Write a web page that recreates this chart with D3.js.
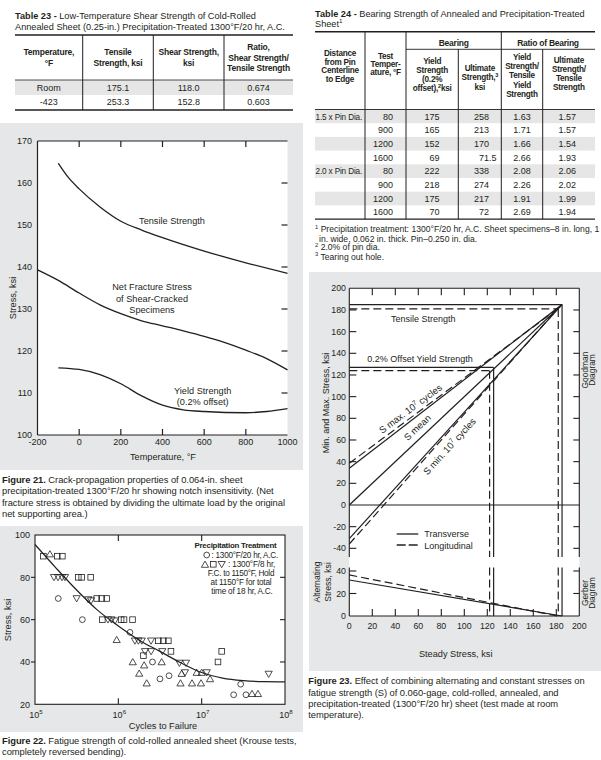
<!DOCTYPE html>
<html><head><meta charset="utf-8">
<script src="https://cdn.jsdelivr.net/npm/d3@7"></script>
<style>
body{margin:0;background:#fff}
svg{display:block}
text{font-family:"Liberation Sans",Arial,Helvetica,sans-serif;fill:#231f20}
</style>
</head><body>
<svg id="c" width="601" height="760"></svg>
<script>
// ================= DATA =================
// Table 23
const t23Head = [["Temperature,","°F"],["Tensile","Strength, ksi"],["Shear Strength,","ksi"],["Ratio,","Shear Strength/","Tensile Strength"]];
const t23Temp = ["Room","-423"];
const t23Tensile = ["175.1","253.3"];
const t23Shear = ["118.0","152.8"];
const t23Ratio = ["0.674","0.603"];
// Table 24
const t24Dist = ["1.5 x Pin Dia.","","","","2.0 x Pin Dia.","","",""];
const t24Temp = ["80","900","1200","1600","80","900","1200","1600"];
const t24Yield = ["175","165","152","69","222","218","175","70"];
const t24Ult = ["258","213","170","71.5","338","274","217","72"];
const t24RatioYield = ["1.63","1.71","1.66","2.66","2.08","2.26","1.91","2.69"];
const t24RatioUlt = ["1.57","1.57","1.54","1.93","2.06","2.02","1.99","1.94"];
const t24Notes = ["Precipitation treatment: 1300°F/20 hr, A.C. Sheet specimens–8 in. long, 1","in. wide, 0.062 in. thick. Pin–0.250 in. dia.","2.0% of pin dia.","Tearing out hole."];

// Figure 21 (temperature °F, stress ksi)
const f21XTicks = [-200,0,200,400,600,800,1000];
const f21YTicks = [100,110,120,130,140,150,160,170];
const f21Tensile = [[-100,164.7],[-50,161.2],[0,158.6],[100,154.3],[200,150.9],[300,148.8],[400,147],[600,143.8],[800,141],[1000,138.5]];
const f21NetFracture = [[-200,139.3],[-100,136.8],[0,133.8],[100,131],[200,128.9],[300,127.2],[400,126],[500,124.8],[600,123.5],[700,122],[800,120.2],[900,118.2],[1000,115.5]];
const f21Yield = [[-100,116],[0,115.6],[100,114.4],[200,112.2],[300,109.3],[400,107.1],[500,106],[600,105.6],[800,105.3],[900,105.6],[1000,106.3]];

// Figure 22 (cycles, stress ksi)
const f22XTicks = [1e5,1e6,1e7,1e8];
const f22YTicks = [20,40,60,80,100];
const f22Circles = [[1.9e5,70],[3.7e5,60],[1.38e6,54],[2.57e6,40],[3.16e6,32],[4.06e6,33.5],[2.94e7,29.5],[2.42e7,24.5],[3.4e7,24.5]];
const f22Triangles = [[1.51e5,91],[9.55e5,50.5],[1.49e6,40],[2.04e6,38.5],[1.78e6,34.6],[2.19e6,30],[3.31e6,40],[5.75e6,34.5],[5.57e6,30],[7.66e6,30],[9.82e6,30],[8.71e6,35],[1.0e7,35],[1.26e7,32],[4.02e7,25],[4.74e7,25]];
const f22Squares = [[1.26e5,90],[1.85e5,90],[2.13e5,90],[3.31e5,80],[3.63e5,80],[4.66e5,80],[5.5e5,70],[6.31e5,70],[7.24e5,70],[6.43e5,60],[1.08e6,60],[1.17e6,60],[1.48e6,60],[3.02e6,50],[3.47e6,50],[3.98e6,50],[2.0e6,43],[4.28e6,45],[1.57e7,40],[1.74e7,45]];
const f22InvTriangles = [[1.69e5,80],[1.89e5,80],[2.11e5,80],[2.29e5,80],[3.16e5,70],[4.36e5,69.5],[4.7e5,69],[7.5e5,60],[8.28e5,60],[9.12e5,59.5],[1.58e6,50],[1.74e6,50],[1.91e6,50],[2.47e6,50],[2.09e6,45],[2.47e6,45],[3.37e6,45],[5.4e6,39.5],[6.49e6,39.5],[6.31e6,35],[1.15e7,35],[6.37e7,34.3]];
const f22Curve = [[1e5,95.5],[1.78e5,84.5],[3.16e5,74],[5.62e5,64.5],[1e6,57],[1.78e6,50.3],[3.16e6,45],[5.62e6,39.6],[1e7,35],[1.78e7,32.4],[3.16e7,31.2],[5.62e7,30.7],[1e8,30.6]];

// Figure 23 (steady stress ksi, min/max stress ksi)
const f23XTicks = [0,20,40,60,80,100,120,140,160,180,200];
const f23YTicksTop = [-40,-20,0,20,40,60,80,100,120,140,160,180,200];
const f23YTicksBot = [0,20,40];
const sMaxT = [[0,34],[185,185]];
const sMaxL = [[0,38.5],[181,181]];
const sMean = [[0,0],[185,185]];
const sMinT = [[0,-31],[185,185]];
const sMinL = [[0,-36],[181,181]];
const tensileT = [185,185];   // [level, steady stress]
const tensileL = [181,181.7];
const yieldT = [127,125.5];
const yieldL = [124,122];
const gerberT = [[0,32],[185,0]];
const gerberL = [[0,36.5],[181,0]];

// ================= DRAWING =================
const INK="#231f20", PANEL="#e6e7e8", BAND="#e6e6e6";
const svg=d3.select("#c");
svg.append("rect").attr("width",601).attr("height",760).attr("fill","#fff");

function text(g,x,y,s,fs,opt={}){
  const t=g.append("text").attr("x",x).attr("y",y).attr("font-size",fs).text(s);
  if(opt.anchor) t.attr("text-anchor",opt.anchor);
  if(opt.bold) t.attr("font-weight","bold");
  if(opt.ls!==undefined) t.attr("letter-spacing",opt.ls);
  if(opt.rot) t.attr("transform",`rotate(${opt.rot},${x},${y})`);
  return t;
}
function rich(g,x,y,parts,fs,opt={}){
  const t=g.append("text").attr("x",x).attr("y",y).attr("font-size",fs);
  if(opt.anchor) t.attr("text-anchor",opt.anchor);
  if(opt.ls!==undefined) t.attr("letter-spacing",opt.ls);
  if(opt.rot) t.attr("transform",`rotate(${opt.rot},${x},${y})`);
  let up=false;
  parts.forEach(p=>{
    if(typeof p==="string") p={t:p};
    const s=t.append("tspan").text(p.t);
    if(p.b) s.attr("font-weight","bold");
    if(p.sup){ s.attr("font-size",fs*0.68); if(!up){s.attr("dy",-fs*0.4);up=true;} }
    else if(up){ s.attr("dy",fs*0.4); up=false; }
  });
  return t;
}
function ln(g,x1,y1,x2,y2,w=1,dash=null){
  const l=g.append("line").attr("x1",x1).attr("y1",y1).attr("x2",x2).attr("y2",y2)
    .attr("stroke",INK).attr("stroke-width",w);
  if(dash) l.attr("stroke-dasharray",dash);
  return l;
}

// ---------- Table 23 ----------
{
  const g=svg.append("g");
  rich(g,15,19,[{t:"Table 23 - ",b:true},"Low-Temperature Shear Strength of Cold-Rolled"],9.2);
  text(g,15,30,"Annealed Sheet (0.25-in.) Precipitation-Treated 1300°F/20 hr, A.C.",9.2);
  const cols=[15,82.7,153.3,224,293];
  g.append("rect").attr("x",15).attr("y",80).attr("width",278).attr("height",15).attr("fill",BAND);
  ln(g,15,35,293,35,1.4); ln(g,15,80,293,80,0.8); ln(g,15,110,293,110,1.4);
  [1,2,3].forEach(i=>ln(g,cols[i],35,cols[i],110,1));
  t23Head.forEach((lines,c)=>{
    const cx=(cols[c]+cols[c+1])/2;
    lines.forEach((s,i)=>text(g,cx,57.5+(i-(lines.length-1)/2)*10.3+3,s,8.5,{anchor:"middle",bold:true,ls:-0.2}));
  });
  const rows=[t23Temp,t23Tensile,t23Shear,t23Ratio];
  rows.forEach((col,c)=>{
    const cx=(cols[c]+cols[c+1])/2;
    col.forEach((s,r)=>text(g,cx,91.4+r*13.5,s,9,{anchor:"middle"}));
  });
}

// ---------- Table 24 ----------
{
  const g=svg.append("g");
  rich(g,315,16.5,[{t:"Table 24 - ",b:true},"Bearing Strength of Annealed and Precipitation-Treated"],9.2);
  rich(g,315,27,["Sheet",{t:"1",sup:true}],9.2);
  const cols=[315,365,406,458.3,501.3,542.7,595];
  const top=31.7, hb=109.5, rh=13.7, bot=hb+8*rh;
  t24Temp.forEach((_,i)=>{ if(i%2===0) g.append("rect").attr("x",315).attr("y",hb+i*rh).attr("width",280).attr("height",rh).attr("fill",BAND); });
  ln(g,315,top,595,top,1.4); ln(g,406,49.3,595,49.3,0.9); ln(g,315,hb,595,hb,0.9); ln(g,315,bot,595,bot,1.4);
  [1,2,4].forEach(i=>ln(g,cols[i],top,cols[i],bot,1));
  [3,5].forEach(i=>ln(g,cols[i],49.3,cols[i],bot,1));
  const hs=8.2, ho={anchor:"middle",bold:true,ls:-0.25};
  text(g,453.7,45.5,"Bearing",8.5,ho);
  text(g,548,45.5,"Ratio of Bearing",8.5,ho);
  const cx=i=>(cols[i]+cols[i+1])/2;
  const block=(c,lines,center,sp)=>lines.forEach((s,i)=>{
    const y=center+(i-(lines.length-1)/2)*sp+3;
    if(Array.isArray(s)) rich(g,cx(c),y,s,hs,ho); else text(g,cx(c),y,s,hs,ho);
  });
  block(0,["Distance","from Pin","Centerline","to Edge"],66,8.5);
  block(1,["Test","Temper-","ature, °F"],64,8);
  block(2,["Yield","Strength","(0.2%",[{t:"offset),",b:true},{t:"2",sup:true,b:true},{t:"ksi",b:true}]],74.7,9.1);
  block(3,["Ultimate",[{t:"Strength,",b:true},{t:"3",sup:true,b:true}],"ksi"],77.3,9.2);
  block(4,["Yield","Strength/","Tensile","Yield","Strength"],75.4,9.3);
  block(5,["Ultimate","Strength/","Tensile","Strength"],73.7,9.1);
  t24Temp.forEach((_,r)=>{
    const y=hb+r*rh+rh/2+3.2;
    if(t24Dist[r]) text(g,315.5,y,t24Dist[r],8.2,{ls:-0.15});
    text(g,393,y,t24Temp[r],9,{anchor:"end"});
    text(g,439.5,y,t24Yield[r],9,{anchor:"end"});
    const parts=t24Ult[r].split(".");
    text(g,489,y,parts[0],9,{anchor:"end"});
    if(parts[1]) text(g,489,y,"."+parts[1],9);
    text(g,cx(4),y,t24RatioYield[r],9,{anchor:"middle"});
    text(g,cx(5)-1.5,y,t24RatioUlt[r],9,{anchor:"middle"});
  });
  rich(g,315,232,[{t:"1",sup:true}," "+t24Notes[0]],8.6);
  text(g,319,241.5,t24Notes[1],8.6);
  rich(g,315,250,[{t:"2",sup:true}," "+t24Notes[2]],8.6);
  rich(g,315,259.5,[{t:"3",sup:true}," "+t24Notes[3]],8.6);
}

// ---------- Figure 21 ----------
{
  const g=svg.append("g");
  g.append("rect").attr("x",0).attr("y",123).attr("width",303).attr("height",347).attr("fill",PANEL);
  const x=d3.scaleLinear([-200,1000],[37.5,287.5]);
  const y=d3.scaleLinear([100,170],[435,141]);
  g.append("rect").attr("x",x(-200)).attr("y",y(170)).attr("width",x(1000)-x(-200)).attr("height",y(100)-y(170)).attr("fill","#fff");
  ln(g,x(-200),y(170),x(-200),y(100),1.2);
  ln(g,x(-200),y(170),x(1000),y(170),1.2);
  ln(g,x(-200),y(100),x(1000),y(100),1.2);
  f21XTicks.filter(v=>v>-200&&v<1000).forEach(v=>{
    ln(g,x(v),y(170),x(v),y(170)+6,1.2); ln(g,x(v),y(100),x(v),y(100)-6,1.2);
  });
  f21YTicks.filter(v=>v>100&&v<170).forEach(v=>ln(g,x(1000)-6,y(v),x(1000),y(v),1.2));
  f21YTicks.forEach(v=>text(g,32,y(v)+3.3,v,9,{anchor:"end"}));
  f21XTicks.forEach(v=>text(g,x(v),444.5,v,9,{anchor:"middle"}));
  text(g,15.5,298,"Stress, ksi",9.2,{anchor:"middle",rot:-90});
  text(g,163,460,"Temperature, °F",9.2,{anchor:"middle"});
  const line=d3.line().x(d=>x(d[0])).y(d=>y(d[1])).curve(d3.curveMonotoneX);
  [f21Tensile,f21NetFracture,f21Yield].forEach(s=>g.append("path").attr("d",line(s)).attr("fill","none").attr("stroke",INK).attr("stroke-width",1.3));
  text(g,172,224,"Tensile Strength",9.2,{anchor:"middle"});
  text(g,152,290,"Net Fracture Stress",9.2,{anchor:"middle"});
  text(g,152,301.5,"of Shear-Cracked",9.2,{anchor:"middle"});
  text(g,152,313,"Specimens",9.2,{anchor:"middle"});
  text(g,202.7,394,"Yield Strength",9.2,{anchor:"middle"});
  text(g,202.7,405,"(0.2% offset)",9.2,{anchor:"middle"});
  rich(g,2,483.3,[{t:"Figure 21.",b:true}," Crack-propagation properties of 0.064-in. sheet"],9.4,{ls:-0.05});
  text(g,2,494.4,"precipitation-treated 1300°F/20 hr showing notch insensitivity. (Net",9.4,{ls:-0.05});
  text(g,2,505.5,"fracture stress is obtained by dividing the ultimate load by the original",9.4,{ls:-0.05});
  text(g,2,516.6,"net supporting area.)",9.4,{ls:-0.05});
}

// ---------- Figure 22 ----------
function marker(g,type,cx,cy){
  const st={stroke:INK,"stroke-width":0.8,fill:"none"};
  let e;
  if(type==="o") e=g.append("circle").attr("cx",cx).attr("cy",cy).attr("r",2.9);
  else if(type==="sq") e=g.append("rect").attr("x",cx-2.8).attr("y",cy-2.8).attr("width",5.6).attr("height",5.6);
  else if(type==="tri") e=g.append("path").attr("d",`M${cx},${cy-3.4}L${cx+3.6},${cy+2.8}L${cx-3.6},${cy+2.8}Z`);
  else e=g.append("path").attr("d",`M${cx-3.6},${cy-2.8}L${cx+3.6},${cy-2.8}L${cx},${cy+3.4}Z`);
  Object.entries(st).forEach(([k,v])=>e.attr(k,v));
}
{
  const g=svg.append("g");
  g.append("rect").attr("x",0).attr("y",526).attr("width",303).attr("height",206).attr("fill",PANEL);
  const x=d3.scaleLog([1e5,1e8],[35,285]);
  const y=d3.scaleLinear([20,100],[704.3,535]);
  g.append("rect").attr("x",35).attr("y",535).attr("width",250).attr("height",y(20)-535).attr("fill","#fff").attr("stroke",INK).attr("stroke-width",1.1);
  [1e6,1e7].forEach(v=>{ ln(g,x(v),535,x(v),541,1.1); ln(g,x(v),y(20),x(v),y(20)-6,1.1); });
  [40,60,80].forEach(v=>{ ln(g,31,y(v),35,y(v),1.1); ln(g,285-5,y(v),285,y(v),1.1); });
  f22YTicks.forEach(v=>text(g,30,y(v)+3.2,v,9,{anchor:"end"}));
  f22XTicks.forEach(v=>rich(g,x(v)+1,717.5,["10",{t:String(Math.round(Math.log10(v))),sup:true}],9,{anchor:"middle"}));
  text(g,11,620,"Stress, ksi",9.2,{anchor:"middle",rot:-90});
  text(g,163,728.5,"Cycles to Failure",9.2,{anchor:"middle"});
  const line=d3.line().x(d=>x(d[0])).y(d=>y(d[1])).curve(d3.curveMonotoneX);
  g.append("path").attr("d",line(f22Curve)).attr("fill","none").attr("stroke",INK).attr("stroke-width",1.2);
  f22Circles.forEach(d=>marker(g,"o",x(d[0]),y(d[1])));
  f22Triangles.forEach(d=>marker(g,"tri",x(d[0]),y(d[1])));
  f22Squares.forEach(d=>marker(g,"sq",x(d[0]),y(d[1])));
  f22InvTriangles.forEach(d=>marker(g,"inv",x(d[0]),y(d[1])));
  // legend
  text(g,235.5,548,"Precipitation Treatment",7.9,{anchor:"middle",bold:true,ls:-0.25});
  marker(g,"o",206.7,555);
  text(g,211.5,558,": 1300°F/20 hr, A.C.",8.2,{ls:-0.25});
  marker(g,"tri",205,564.5); marker(g,"sq",213.3,564.3); marker(g,"inv",221.7,564.3);
  text(g,228,567.3,": 1300°F/8 hr,",8.2,{ls:-0.15});
  text(g,241,576.3,"F.C. to 1150°F, Hold",8.2,{anchor:"middle",ls:-0.3});
  text(g,241,584.9,"at 1150°F for total",8.2,{anchor:"middle",ls:-0.2});
  text(g,242,593.7,"time of 18 hr, A.C.",8.2,{anchor:"middle",ls:-0.2});
  rich(g,2,744,[{t:"Figure 22.",b:true}," Fatigue strength of cold-rolled annealed sheet (Krouse tests,"],9.4,{ls:-0.05});
  text(g,2,755,"completely reversed bending).",9.4,{ls:-0.05});
}

// ---------- Figure 23 ----------
{
  const g=svg.append("g");
  g.append("rect").attr("x",309).attr("y",272).attr("width",292).attr("height",399).attr("fill",PANEL);
  const x=d3.scaleLinear([0,200],[349.3,579.3]);
  const yT=d3.scaleLinear([-48,200],[557,288.3]);
  const yB=d3.scaleLinear([0,43],[616,567.6]);
  g.append("rect").attr("x",x(0)).attr("y",yT(200)).attr("width",x(200)-x(0)).attr("height",yB(0)-yT(200)).attr("fill","#fff");
  // frame
  ln(g,x(0),yT(200),x(200),yT(200),1.1);
  ln(g,x(0),yT(200),x(0),yT(-48),1.1); ln(g,x(200),yT(200),x(200),yT(-48),1.1);
  ln(g,x(0),yB(43),x(0),yB(0),1.1); ln(g,x(200),yB(43),x(200),yB(0),1.1);
  ln(g,x(0),yB(0),x(200),yB(0),1.1);
  ln(g,x(0),yT(0),x(200),yT(0),1.1);
  f23XTicks.filter(v=>v>0&&v<200).forEach(v=>{ ln(g,x(v),yT(200),x(v),yT(200)+7,1.1); ln(g,x(v),yB(0),x(v),yB(0)-7,1.1); });
  f23YTicksTop.filter(v=>v!==0&&v!==200).forEach(v=>{ ln(g,x(0),yT(v),x(0)+7,yT(v),1.1); ln(g,x(200)-6,yT(v),x(200),yT(v),1.1); });
  f23YTicksBot.filter(v=>v>0).forEach(v=>{ ln(g,x(0),yB(v),x(0)+7,yB(v),1.1); ln(g,x(200)-6,yB(v),x(200),yB(v),1.1); });
  f23YTicksTop.forEach(v=>text(g,346,yT(v)+3.1,v,8.8,{anchor:"end"}));
  f23YTicksBot.forEach(v=>text(g,346,yB(v)+3.1,v,8.8,{anchor:"end"}));
  f23XTicks.forEach(v=>text(g,x(v),628.5,v,8.8,{anchor:"middle"}));
  text(g,455.7,657,"Steady Stress, ksi",9.2,{anchor:"middle"});
  text(g,329,403,"Min. and Max. Stress, ksi",9,{anchor:"middle",rot:-90});
  text(g,319.5,582,"Alternating",8.6,{anchor:"middle",rot:-90});
  text(g,330.5,582,"Stress, ksi",8.6,{anchor:"middle",rot:-90});
  text(g,588.3,370,"Goodman",8.4,{anchor:"middle",rot:-90});
  text(g,595,370,"Diagram",8.4,{anchor:"middle",rot:-90});
  text(g,588.3,593,"Gerber",8.4,{anchor:"middle",rot:-90});
  text(g,595,593,"Diagram",8.4,{anchor:"middle",rot:-90});
  const D="8,4", W=1.2;
  const seg=(pts,sc,dash)=>{ const p=g.append("path").attr("d",d3.line().x(d=>x(d[0])).y(d=>sc(d[1]))(pts)).attr("fill","none").attr("stroke",INK).attr("stroke-width",W); if(dash) p.attr("stroke-dasharray",dash); return p; };
  // tensile & yield rectangles
  [[tensileT,null],[tensileL,D],[yieldT,null],[yieldL,D]].forEach(([r,dash])=>{
    seg([[0,r[0]],[r[1],r[0]]],yT,dash);
    seg([[r[1],r[0]],[r[1],-48]],yT,dash);
    seg([[r[1],43],[r[1],0]],yB,dash);
  });
  seg(sMaxT,yT,null); seg(sMaxL,yT,D);
  seg(sMean,yT,null);
  seg(sMinT,yT,null); seg(sMinL,yT,D);
  seg(gerberT,yB,null); seg(gerberL,yB,D);
  // labels along lines
  const along=(pts,t,off,parts)=>{
    const [a,b]=pts; const px1=x(a[0]),py1=yT(a[1]),px2=x(b[0]),py2=yT(b[1]);
    const ang=Math.atan2(py2-py1,px2-px1)*180/Math.PI;
    const v=a[1]+(b[1]-a[1])*(t-a[0])/(b[0]-a[0]);
    const gg=g.append("g").attr("transform",`translate(${x(t)},${yT(v)}) rotate(${ang})`);
    rich(gg,0,off,parts,9.5,{anchor:"middle"});
  };
  along(sMaxL,57,-4,["S max. 10",{t:"7",sup:true}," cycles"]);
  along(sMean,65,-6.4,["S mean"]);
  along(sMinT,79.3,15.5,["S min. 10",{t:"7",sup:true}," cycles"]);
  text(g,423.3,322,"Tensile Strength",9,{anchor:"middle"});
  text(g,420,362,"0.2% Offset Yield Strength",9,{anchor:"middle"});
  // legend
  ln(g,396.7,534,418.3,534,1.3);
  ln(g,396.7,545,418.3,545,1.3,"9,3");
  text(g,424.3,537.3,"Transverse",9);
  text(g,424.3,548.5,"Longitudinal",9);
  rich(g,308.3,684.3,[{t:"Figure 23.",b:true}," Effect of combining alternating and constant stresses on"],9.4,{ls:-0.05});
  text(g,308.3,695.5,"fatigue strength (S) of 0.060-gage, cold-rolled, annealed, and",9.4,{ls:-0.05});
  text(g,308.3,706.6,"precipitation-treated (1300°F/20 hr) sheet (test made at room",9.4,{ls:-0.05});
  text(g,308.3,717.7,"temperature).",9.4,{ls:-0.05});
}
</script>
</body></html>
